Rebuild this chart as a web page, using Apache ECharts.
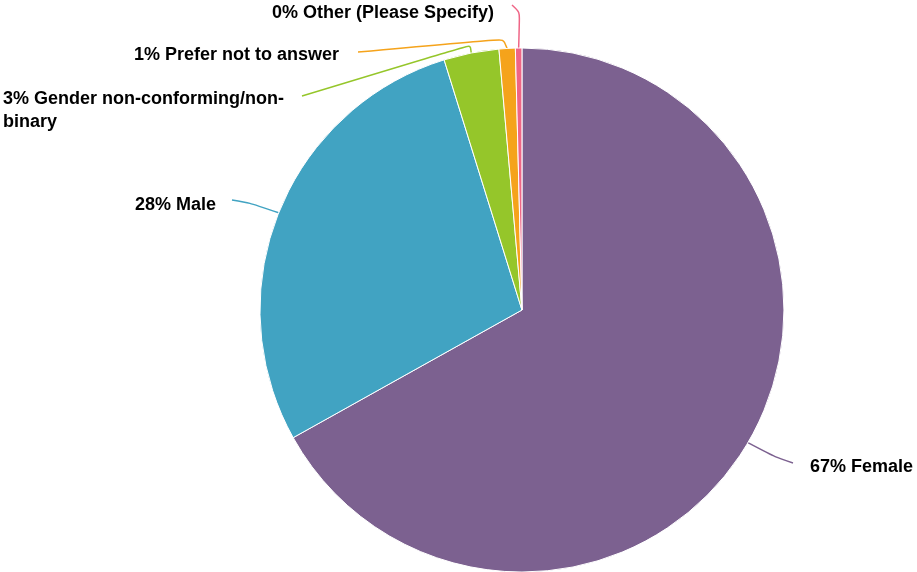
<!DOCTYPE html>
<html>
<head>
<meta charset="utf-8">
<script src="https://cdn.jsdelivr.net/npm/echarts@6/dist/echarts.min.js"></script>
<style>
html,body{margin:0;padding:0;background:#fff;}
#chart{width:917px;height:572px;}
</style>
</head>
<body>
<div id="chart"></div>
<script>
// Data
const categories = ['Female', 'Male', 'Gender non-conforming/non-binary', 'Prefer not to answer', 'Other (Please Specify)'];
const values = [66.9, 28.3, 3.4, 1.0, 0.4];
const colors = ['#7c6190', '#41a3c2', '#95c62a', '#f5a31b', '#ef6586'];

// Label layout (positions only)
const labelPlacement = [
  { x: 810, y: 467, align: 'left',  va: 'middle', bend: function (p) { return [[775, 457], [793, 463]]; } },
  { x: 216, y: 205, align: 'right', va: 'middle', bend: function (p) { return [[250, 203], [232, 200]]; } },
  { x: 3,   y: 88,  align: 'left',  va: 'top',    bend: function (p) { return [[p[0] - 1, 45], [302, 96]]; } },
  { x: 339, y: 55,  align: 'right', va: 'middle', bend: function (p) { return [[p[0] - 4, 39], [358, 52]]; } },
  { x: 494, y: 13,  align: 'right', va: 'middle', bend: function (p) { return [[p[0] + 1, 12], [512, 5]]; } }
];

function wrapText(s, maxChars) {
  const tokens = s.match(/[^\s-]+-?\s*|\s+/g) || [s];
  const lines = [];
  let cur = '';
  tokens.forEach(function (t) {
    if ((cur + t).trimEnd().length > maxChars && cur.length) {
      lines.push(cur.trimEnd());
      cur = t;
    } else {
      cur += t;
    }
  });
  if (cur.length) lines.push(cur.trimEnd());
  return lines.join('\n');
}

const chart = echarts.init(document.getElementById('chart'), null, { renderer: 'canvas' });
chart.setOption({
  animation: false,
  color: colors,
  series: [{
    type: 'pie',
    center: ['56.92%', '54.2%'],
    radius: [0, 262],
    startAngle: 90,
    clockwise: true,
    avoidLabelOverlap: false,
    itemStyle: { borderColor: '#ffffff', borderWidth: 1 },
    label: {
      show: true,
      position: 'outside',
      fontFamily: 'Liberation Sans, Arial, Helvetica, sans-serif',
      fontWeight: 'bold',
      fontSize: 18,
      lineHeight: 23,
      color: '#000000',
      formatter: function (p) {
        return wrapText(Math.round(p.percent) + '% ' + p.name, 30);
      }
    },
    labelLine: {
      show: true,
      smooth: 0.25,
      lineStyle: { width: 1.5 }
    },
    labelLayout: function (params) {
      const cfg = labelPlacement[params.dataIndex];
      const pts = params.labelLinePoints;
      const start = pts ? pts[0] : [0, 0];
      const b = cfg.bend(start);
      return {
        x: cfg.x,
        y: cfg.y,
        align: cfg.align,
        verticalAlign: cfg.va,
        labelLinePoints: [start, b[0], b[1]]
      };
    },
    emphasis: { disabled: true },
    data: categories.map(function (c, i) { return { name: c, value: values[i] }; })
  }]
});
</script>
</body>
</html>
